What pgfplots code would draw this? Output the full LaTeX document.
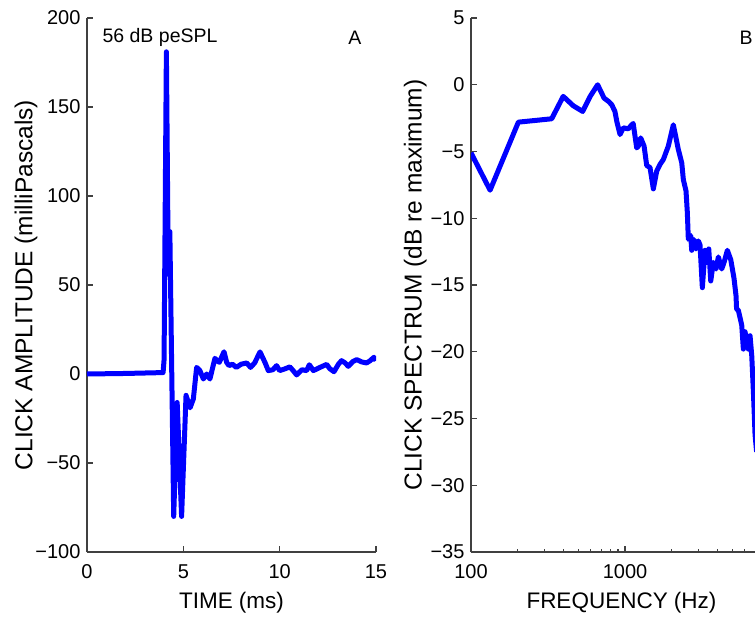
\documentclass[border=0pt]{standalone}
\usepackage{fontspec}
\setmainfont{Liberation Sans}
\usepackage{pgfplots}
\pgfplotsset{compat=1.18}

\pgfplotsset{
  panel/.style={
    scale only axis,
    height=534pt,
    axis lines=left,
    axis line style={-, line width=1.1pt, black!75},
    tick style={black!75, line width=1.1pt},
    major tick length=6pt,
    minor tick length=3.5pt,
    tick align=inside,
    tick label style={font=\fontsize{20}{22}\selectfont},
    xticklabel style={yshift=-9pt},
    yticklabel style={xshift=-3pt},
    xlabel style={font=\fontsize{22.5}{26}\selectfont, yshift=-7pt},
    ylabel style={font=\fontsize{24.5}{28}\selectfont},
    /pgf/number format/assume math mode=true,
  },
  curve/.style={blue, line width=5pt, line join=round, no markers},
}

\begin{document}
\begin{tikzpicture}
\useasboundingbox (-87pt,-67pt) rectangle (668pt,552pt);

% panel A: click waveform
\begin{axis}[panel,
    width=289pt,
    xmin=0, xmax=15, ymin=-100, ymax=200,
    xtick={0,5,10,15},
    ytick={-100,-50,0,50,100,150,200},
    yticklabels={−100,−50,0,50,100,150,200},
    xlabel={TIME (ms)},
    ylabel={CLICK AMPLITUDE (milliPascals)},
    ylabel style={yshift=-9pt},
]
\addplot[curve] coordinates {
  (0,0) (2,0.3) (3.95,0.8) (4.0,8) (4.12,181) (4.22,56) (4.30,80)
  (4.50,-80) (4.68,-16) (4.91,-80) (5.14,-12) (5.35,-19) (5.52,-14)
  (5.69,3.7) (5.86,1.9) (6.04,-2.8) (6.21,0) (6.38,-2.8) (6.64,8.8)
  (6.80,7) (6.87,6.6) (7.11,12.5) (7.25,6.5) (7.37,4.7) (7.55,5.5)
  (7.75,3.7) (8.0,5.5) (8.29,6.2) (8.49,3.7) (8.70,6.2) (8.98,12.4)
  (9.25,6.2) (9.41,1.9) (9.65,2.4) (9.84,4.7) (10.0,1.9) (10.25,2.8)
  (10.53,4.0) (10.70,1.9) (10.88,-0.5) (11.15,2.4) (11.40,1.9) (11.54,5.2)
  (11.75,1.9) (12.09,3.7) (12.44,5.4) (12.60,3.0) (12.82,1.3) (13.05,5.5)
  (13.21,7.5) (13.40,6.2) (13.56,4.3) (13.80,7.0) (14.0,8.1) (14.25,6.8)
  (14.51,6.2) (14.70,7.5) (14.89,9.4) (15.0,7.5)
};
\node[font=\fontsize{19.5}{22}\selectfont] at (axis cs:3.79,189) {56 dB peSPL};
\node[font=\fontsize{19.5}{22}\selectfont] at (axis cs:13.9,189) {A};
\end{axis}

% panel B: click spectrum
\begin{axis}[panel,
    at={(384pt,0pt)},
    width=301pt,
    xmode=log,
    xmin=100, xmax=9000, ymin=-35, ymax=5,
    xtick={100,1000},
    xticklabels={100,1000},
    minor xtick={200,300,400,500,600,700,800,900,2000,3000,4000,5000,6000,7000,8000,9000},
    ytick={-35,-30,-25,-20,-15,-10,-5,0,5},
    yticklabels={−35,−30,−25,−20,−15,−10,−5,0,5},
    xlabel={FREQUENCY (Hz)},
    ylabel={CLICK SPECTRUM (dB re maximum)},
    ylabel style={yshift=-3pt},
]
\addplot[curve] coordinates {
  (100,-5.1) (133,-7.9) (203,-2.8) (334,-2.55) (397,-0.87) (461,-1.57)
  (531,-2.0) (594,-0.87) (664,0) (731,-1.0) (780,-1.24) (820,-1.5)
  (860,-2.0) (884,-2.74) (928,-3.73) (975,-3.23) (1051,-3.3) (1105,-3.0)
  (1130,-2.9) (1191,-4.73) (1220,-4.6) (1264,-3.98) (1330,-4.6) (1383,-6.05)
  (1453,-6.2) (1527,-7.8) (1606,-6.47) (1687,-5.97) (1773,-5.6) (1910,-4.6)
  (2059,-3.0) (2219,-4.85) (2335,-5.85) (2391,-7.1) (2489,-7.96) (2538,-9.56)
  (2576,-11.57) (2670,-11.3) (2711,-12.4) (2805,-11.6) (2891,-12.3) (2993,-11.7)
  (3069,-12.0) (3177,-15.2) (3306,-12.4) (3390,-13.3) (3497,-12.3) (3602,-14.7)
  (3743,-13.3) (3898,-13.8) (4036,-12.9) (4246,-13.8) (4397,-13.3) (4618,-12.4)
  (4858,-13.1) (5100,-14.5) (5255,-15.8) (5300,-16.8) (5443,-16.9) (5723,-18.0)
  (5866,-19.8) (6015,-18.5) (6320,-19.8) (6483,-18.8) (6650,-20.3) (6815,-23.0)
  (6985,-26.2) (7150,-27.5)
};
\node[font=\fontsize{19.5}{22}\selectfont] at (axis cs:6105,3.5) {B};
\end{axis}
\end{tikzpicture}
\end{document}
